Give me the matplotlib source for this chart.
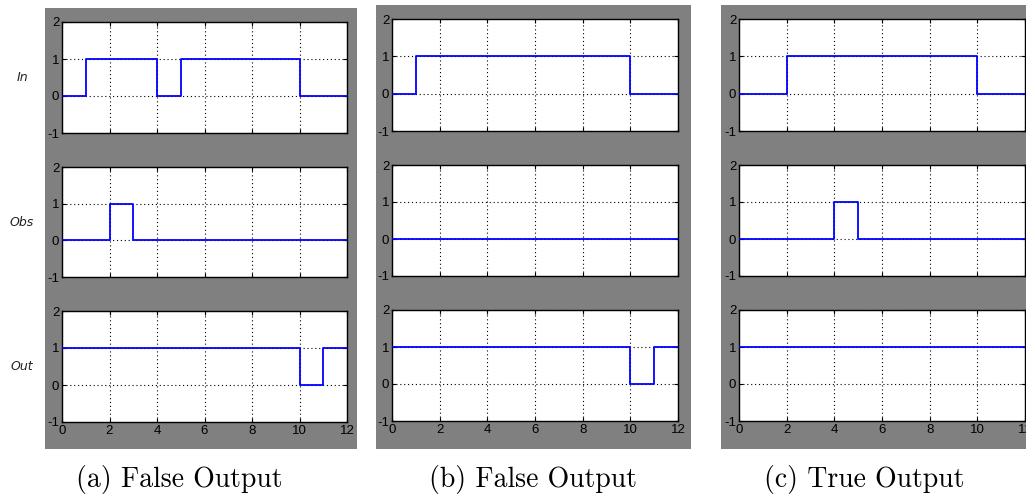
import matplotlib
matplotlib.use("Agg")
import matplotlib.pyplot as plt
from matplotlib.patches import Rectangle

plt.rcParams['axes.unicode_minus'] = False

# switching times (s) and signal levels, one step signal per row
in_a_t = [0, 1, 4, 5, 10, 12]
in_a_v = [0, 1, 0, 1, 0, 0]
obs_a_t = [0, 2, 3, 12]
obs_a_v = [0, 1, 0, 0]
out_a_t = [0, 10, 11, 12]
out_a_v = [1, 0, 1, 1]

in_b_t = [0, 1, 10, 12]
in_b_v = [0, 1, 0, 0]
obs_b_t = [0, 12]
obs_b_v = [0, 0]
out_b_t = [0, 10, 11, 12]
out_b_v = [1, 0, 1, 1]

in_c_t = [0, 2, 10, 12]
in_c_v = [0, 1, 0, 0]
obs_c_t = [0, 4, 5, 12]
obs_c_v = [0, 1, 0, 0]
out_c_t = [0, 12]
out_c_v = [1, 1]

row_names = ["In", "Obs", "Out"]
captions = ["(a) False Output", "(b) False Output", "(c) True Output"]
x_ticks = [0, 2, 4, 6, 8, 10, 12]
y_ticks = [-1, 0, 1, 2]

panels = [
    [(in_a_t, in_a_v), (obs_a_t, obs_a_v), (out_a_t, out_a_v)],
    [(in_b_t, in_b_v), (obs_b_t, obs_b_v), (out_b_t, out_b_v)],
    [(in_c_t, in_c_v), (obs_c_t, obs_c_v), (out_c_t, out_c_v)],
]

W, H = 1026, 497
fig = plt.figure(figsize=(W / 100, H / 100), dpi=100)
fig.patch.set_facecolor("white")


def frac(x0, y0, x1, y1):
    # pixel box (top-left origin) -> figure fraction rect
    return [x0 / W, 1 - y1 / H, (x1 - x0) / W, (y1 - y0) / H]


# grey window backgrounds
gray_boxes = [(45, 8, 357, 449), (376, 5, 691, 449), (721, 5, 1026, 449)]
for (x0, y0, x1, y1) in gray_boxes:
    fig.add_artist(Rectangle((x0 / W, 1 - y1 / H), (x1 - x0) / W, (y1 - y0) / H,
                             transform=fig.transFigure, facecolor="#808080",
                             edgecolor="none", zorder=0))

axes_x = [(62, 347), (392, 678), (739, 1025)]
rows_y = [
    [(22, 133), (167, 277), (311, 422)],
    [(19, 131), (165, 276), (310, 421)],
    [(19, 131), (165, 276), (310, 421)],
]

for p, signals in enumerate(panels):
    x0, x1 = axes_x[p]
    for r, (t, v) in enumerate(signals):
        y0, y1 = rows_y[p][r]
        ax = fig.add_axes(frac(x0, y0, x1, y1))
        ax.step(t, v, where="post", color="#0000ff", lw=1.3, zorder=3)
        ax.set_xlim(0, 12)
        ax.set_ylim(-1, 2)
        ax.set_xticks(x_ticks)
        ax.set_yticks(y_ticks)
        ax.grid(True, color="black", linestyle=(0, (1, 2.5)), lw=0.8)
        ax.tick_params(direction="in", length=3, width=0.8, top=True, right=True,
                       labelsize=9.5, pad=2, colors="black")
        for lab in ax.get_xticklabels() + ax.get_yticklabels():
            lab.set_family("Liberation Sans")
        for s in ax.spines.values():
            s.set_linewidth(1.0)
            s.set_color("black")
        if r < 2:
            ax.set_xticklabels([])
        if p == 0:
            fig.text(22 / W, 1 - ((y0 + y1) / 2) / H, row_names[r],
                     ha="center", va="center", fontsize=9, style="italic",
                     color="#222222")

caption_x = [179, 533, 864]
for p in range(3):
    fig.text(caption_x[p] / W, 1 - 479 / H, captions[p], ha="center", va="center",
             fontsize=20, family="cmr10")

fig.savefig("out.png", dpi=100)
